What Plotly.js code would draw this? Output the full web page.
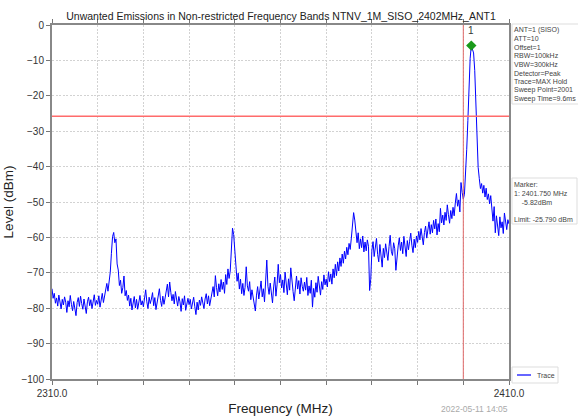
<!DOCTYPE html>
<html>
<head>
<meta charset="utf-8">
<script src="https://cdn.plot.ly/plotly-3.0.1.min.js"></script>
<style>html,body{margin:0;padding:0;background:#fff;}#chart{width:578px;height:417px;}</style>
</head>
<body>
<div id="chart"></div>
<script>
// ---- data ----
const freqStart = 2310;      // MHz
const freqStep = 0.25;       // MHz per sweep point (resampled)
const level = [
-74.5,-77.2,-75.8,-78.6,-77.1,-79.4,-76.3,-78.8,-80.2,-77.5,-79.1,-76.8,-78.3,-81.2,-77.9,-79.6,-76.4,-78.9,-80.7,-78.1,
-79.8,-82.1,-78.4,-77.0,-79.5,-76.6,-78.7,-80.3,-77.4,-79.0,-81.5,-78.2,-76.9,-79.3,-77.6,-80.1,-78.5,-76.2,-79.2,-77.8,
-78.9,-76.5,-79.7,-77.3,-75.8,-78.4,-76.1,-74.3,-73.0,-75.2,-72.4,-69.8,-64.5,-59.8,-58.6,-61.5,-60.4,-67.5,-69.2,-73.6,
-72.1,-75.8,-74.2,-70.9,-76.5,-75.0,-77.8,-76.3,-79.4,-77.2,-80.5,-78.0,-76.7,-79.9,-77.5,-80.3,-78.6,-76.4,-79.1,-77.9,
-79.6,-77.3,-74.8,-78.2,-80.1,-76.9,-78.7,-77.4,-75.6,-79.3,-77.0,-80.4,-78.1,-76.2,-74.5,-77.8,-79.5,-76.6,-78.9,-77.1,
-74.9,-73.2,-76.8,-72.6,-75.5,-77.9,-76.1,-78.8,-75.3,-77.6,-79.4,-76.7,-78.2,-80.9,-77.3,-79.1,-76.5,-80.6,-78.4,-77.2,
-79.0,-77.5,-80.2,-78.1,-76.9,-79.6,-81.8,-78.3,-80.5,-77.7,-79.2,-76.8,-78.6,-80.1,-77.4,-75.9,-78.8,-76.5,-79.3,-77.0,
-75.6,-73.9,-76.8,-70.8,-74.2,-76.5,-73.1,-75.4,-71.9,-74.7,-72.6,-75.8,-70.5,-73.3,-68.9,-71.6,-69.5,-62.3,-57.4,-59.2,
-63.5,-68.7,-72.4,-70.1,-74.6,-71.8,-75.9,-73.0,-76.4,-74.1,-68.3,-73.7,-75.2,-72.5,-77.6,-74.8,-76.9,-78.7,-80.8,-76.3,
-73.9,-77.4,-75.1,-72.3,-76.8,-74.5,-78.2,-71.6,-66.4,-73.8,-76.1,-72.9,-75.7,-78.5,-74.0,-71.2,-76.6,-73.4,-67.6,-72.8,
-70.5,-74.3,-72.0,-75.6,-69.8,-73.1,-76.2,-71.7,-74.9,-68.6,-72.8,-75.3,-77.9,-73.5,-70.9,-74.6,-72.2,-76.0,-71.4,-73.8,
-75.2,-72.6,-74.9,-71.3,-76.4,-73.7,-75.8,-72.1,-79.7,-74.4,-76.9,-72.8,-75.5,-71.0,-73.9,-76.3,-72.5,-74.7,-70.6,-73.4,
-71.8,-74.0,-69.7,-72.5,-70.3,-73.2,-68.9,-71.4,-67.6,-70.8,-66.9,-69.5,-65.8,-68.2,-64.7,-67.3,-63.9,-66.1,-62.8,-64.9,
-61.7,-63.4,-60.2,-56.3,-53.0,-55.1,-59.8,-61.5,-58.7,-63.2,-60.4,-62.9,-59.6,-64.1,-61.3,-63.8,-60.7,-62.5,-75.0,-71.8,
-63.6,-61.2,-65.4,-62.7,-60.3,-64.8,-66.9,-62.0,-64.5,-68.4,-63.1,-65.7,-61.8,-64.2,-66.5,-62.6,-59.4,-63.9,-65.1,-61.5,
-63.2,-69.3,-65.0,-62.4,-60.1,-63.7,-61.3,-64.6,-59.7,-62.8,-65.4,-60.9,-63.5,-61.1,-58.8,-62.2,-64.3,-60.5,-62.9,-59.6,
-61.4,-58.3,-60.7,-57.5,-59.9,-62.1,-58.6,-56.8,-60.2,-57.9,-55.6,-59.1,-56.4,-58.7,-55.2,-57.6,-54.8,-59.3,-56.1,-58.4,
-51.8,-55.9,-53.7,-56.5,-52.9,-55.2,-50.8,-53.6,-56.0,-52.4,-54.7,-51.5,-53.9,-50.3,-47.6,-51.2,-49.4,-52.8,-44.5,-47.3,
-49.2,-47.8,-42.5,-35.1,-27.0,-17.5,-9.4,-5.82,-6.6,-7.9,-12.8,-24.5,-35.3,-40.2,-43.4,-46.2,-44.8,-47.5,-45.3,-48.6,
-46.1,-49.3,-47.7,-50.5,-48.2,-52.6,-55.4,-51.3,-58.7,-53.9,-56.8,-59.5,-54.2,-57.3,-55.6,-58.9,-53.1,-56.4,-57.8,-55.0,
-56.2
];
const markerFreq = [2401.75];
const markerLevel = [-5.82];
const markerLabel = ["1"];
const limitLevel = -25.79;
const bandEdge = 2400;
const xRange = [2310, 2410];
const yRange = [-100, 0];
const xTickVals = [2310,2320,2330,2340,2350,2360,2370,2380,2390,2400,2410];
const xTickText = ["2310.0","","","","","","","","","","2410.0"];
const infoLines = ["ANT=1 (SISO)","ATT=10","Offset=1","RBW=100kHz","VBW=300kHz","Detector=Peak","Trace=MAX Hold","Sweep Point=2001","Sweep Time=9.6ms"];
const markerLines = ["Marker:","1: 2401.750 MHz","&nbsp;&nbsp;&nbsp;&nbsp;-5.82dBm","","Limit: -25.790 dBm"];
const titleText = "Unwanted Emissions in Non-restricted Frequency Bands NTNV_1M_SISO_2402MHz_ANT1";
const dateText = "2022-05-11 14:05";

// ---- layout helpers (pixel -> paper) ----
const W = 578, H = 417, L = 52, R = 509, T = 25, B = 379;
const px = x => (x - L) / (R - L);
const py = y => (B - y) / (B - T);
const FONT = "Liberation Sans, Arial, sans-serif";

const traces = [
  {x0: freqStart, dx: freqStep, y: level, type: 'scatter', mode: 'lines', name: 'Trace',
   line: {color: '#0000ff', width: 1}, showlegend: false, hoverinfo: 'x+y'},
  {x: markerFreq, y: markerLevel, type: 'scatter', mode: 'markers', showlegend: false,
   marker: {symbol: 'diamond', size: 8, color: '#1a9a1a'}}
];

const shapes = [
  {type: 'line', xref: 'x', yref: 'y', x0: xRange[0], x1: xRange[1], y0: limitLevel, y1: limitLevel,
   line: {color: '#ff6b6b', width: 1.5}},
  {type: 'line', xref: 'x', yref: 'y', x0: bandEdge, x1: bandEdge, y0: yRange[0], y1: yRange[1],
   line: {color: '#e06a6a', width: 1}},
  // info box
  {type: 'rect', xref: 'paper', yref: 'paper', x0: px(512), x1: px(582), y0: py(24), y1: py(104),
   line: {color: '#dddddd', width: 1}, fillcolor: '#ffffff', layer: 'below'},
  // marker box
  {type: 'rect', xref: 'paper', yref: 'paper', x0: px(512), x1: px(577), y0: py(178), y1: py(224),
   line: {color: '#dddddd', width: 1}, fillcolor: '#ffffff', layer: 'below'},
  // legend box
  {type: 'rect', xref: 'paper', yref: 'paper', x0: px(512), x1: px(558), y0: py(367), y1: py(383),
   line: {color: '#dddddd', width: 1}, fillcolor: '#ffffff', layer: 'below'},
  {type: 'line', xref: 'paper', yref: 'paper', x0: px(517), x1: px(531), y0: py(375), y1: py(375),
   line: {color: '#0000ff', width: 1.2}}
];

const annotations = [];
infoLines.forEach((t, i) => annotations.push({
  text: t, xref: 'paper', yref: 'paper', x: px(512), y: py(30 + i * 8.6),
  xanchor: 'left', yanchor: 'middle', showarrow: false, align: 'left',
  font: {family: FONT, size: 7, color: '#444'}
}));
markerLines.forEach((t, i) => { if (t) annotations.push({
  text: t, xref: 'paper', yref: 'paper', x: px(512), y: py(184.5 + i * 8.8),
  xanchor: 'left', yanchor: 'middle', showarrow: false, align: 'left',
  font: {family: FONT, size: 7, color: '#444'}
}); });
annotations.push({text: 'Trace', xref: 'paper', yref: 'paper', x: px(535), y: py(375),
  xanchor: 'left', yanchor: 'middle', showarrow: false, font: {family: FONT, size: 7, color: '#444'}});
annotations.push({text: markerLabel[0], xref: 'x', yref: 'paper', x: markerFreq[0], y: py(30),
  xanchor: 'center', yanchor: 'middle', showarrow: false, font: {family: FONT, size: 10, color: '#333'}});
annotations.push({text: dateText, xref: 'paper', yref: 'paper', x: px(510), y: py(409),
  xanchor: 'right', yanchor: 'middle', showarrow: false, font: {family: FONT, size: 8.5, color: '#aaaaaa'}});

const layout = {
  width: W, height: H,
  margin: {l: L, r: W - R, t: T, b: H - B, pad: 0},
  paper_bgcolor: '#ffffff', plot_bgcolor: '#ffffff',
  font: {family: FONT, color: '#333'},
  showlegend: false,
  title: {text: titleText, x: px(281), xref: 'paper', xanchor: 'center', y: 1 - 16.5 / H, yref: 'container', yanchor: 'middle',
          font: {family: FONT, size: 10.5, color: '#222'}},
  xaxis: {range: xRange, tickmode: 'array', tickvals: xTickVals, ticktext: xTickText,
          ticks: 'outside', ticklen: 4, tickcolor: '#777', tickwidth: 1,
          showline: true, linecolor: '#888', linewidth: 2, mirror: 'ticks',
          showgrid: true, gridcolor: '#d2d2d2', griddash: '2px,1.5px', gridwidth: 1, zeroline: false,
          tickfont: {family: FONT, size: 10, color: '#333'},
          title: {text: 'Frequency (MHz)', standoff: 6, font: {family: FONT, size: 13.5, color: '#222'}}},
  yaxis: {range: yRange, dtick: 10, tick0: 0,
          ticks: 'outside', ticklen: 4, tickcolor: '#777', tickwidth: 1,
          showline: true, linecolor: '#888', linewidth: 2, mirror: true,
          showgrid: true, gridcolor: '#d2d2d2', griddash: '2px,1.5px', gridwidth: 1, zeroline: false,
          tickfont: {family: FONT, size: 10, color: '#333'},
          title: {text: 'Level (dBm)', standoff: 5, font: {family: FONT, size: 13.5, color: '#222'}}},
  shapes: shapes,
  annotations: annotations
};

Plotly.newPlot('chart', traces, layout, {staticPlot: true, displayModeBar: false});
</script>
</body>
</html>
